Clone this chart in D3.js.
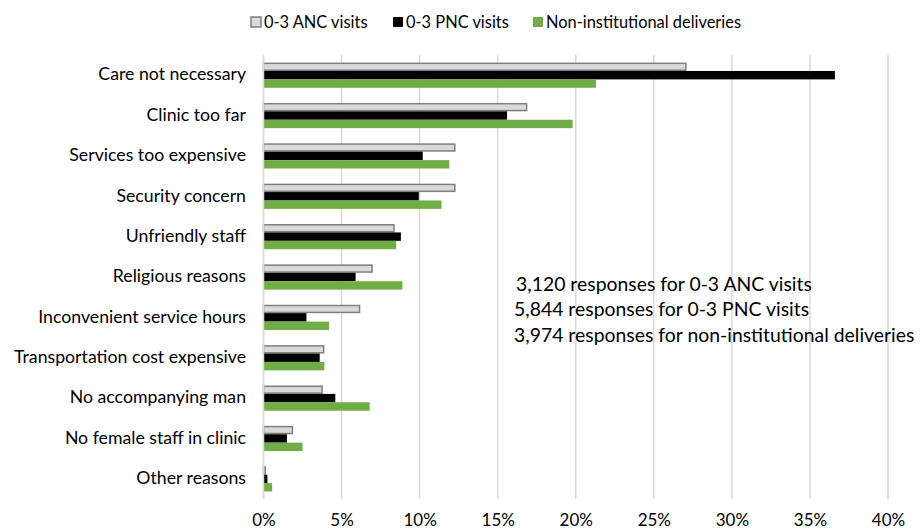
<!DOCTYPE html>
<html><head><meta charset="utf-8">
<script src="https://cdn.jsdelivr.net/npm/d3@7"></script>
<style>body{margin:0;background:#fff}svg{display:block}text{font-family:Lato,"Open Sans",sans-serif;fill:#000}</style>
</head><body>
<svg id="c" width="921" height="530"></svg>
<script>
const categories = ["Care not necessary","Clinic too far","Services too expensive","Security concern","Unfriendly staff","Religious reasons","Inconvenient service hours","Transportation cost expensive","No accompanying man","No female staff in clinic","Other reasons"];
const seriesNames = ["0-3 ANC visits","0-3 PNC visits","Non-institutional deliveries"];
const ancValues = [27.1,16.9,12.3,12.3,8.4,7.0,6.2,3.9,3.8,1.9,0.15];
const pncValues = [36.6,15.6,10.2,9.95,8.8,5.9,2.75,3.6,4.6,1.5,0.25];
const nidValues = [21.3,19.8,11.9,11.4,8.5,8.9,4.2,3.9,6.8,2.5,0.55];
const xTicks = [0,5,10,15,20,25,30,35,40];
const notes = ["3,120 responses for 0-3 ANC visits","5,844 responses for 0-3 PNC visits","3,974 responses for non-institutional deliveries"];

const fills = ["#d9d9d9","#000000","#70ad47"];
const strokes = ["#7f7f7f","none","none"];
const values = [ancValues,pncValues,nidValues];

const svg = d3.select("#c");
const x = d3.scaleLinear().domain([0,40]).range([263.5,888]);
const y = d3.scaleBand().domain(categories).range([55,499]);
const sub = d3.scaleBand().domain(seriesNames).range([-12.6,12.6]);

// gridlines
svg.append("g").selectAll("line").data(xTicks).join("line")
  .attr("x1",d=>x(d)).attr("x2",d=>x(d)).attr("y1",55).attr("y2",499)
  .attr("stroke","#d9d9d9").attr("stroke-width",1.5);

// x axis labels
const xa = svg.append("g").attr("transform","translate(0,499)")
  .call(d3.axisBottom(x).tickValues(xTicks).tickFormat(d=>d+"%").tickSize(0).tickPadding(15));
xa.select(".domain").remove();
xa.selectAll("text").attr("font-size",17).style("font-family","Lato,sans-serif").attr("fill","#000");

// y axis labels
const ya = svg.append("g").attr("transform","translate(246,0)")
  .call(d3.axisLeft(y).tickSize(0).tickPadding(0));
ya.select(".domain").remove();
ya.selectAll("text").attr("font-size",17.7).style("font-family","Lato,sans-serif").attr("fill","#000").attr("dy","0.3em");

// bars
seriesNames.forEach((s,i)=>{
  svg.append("g").selectAll("rect").data(categories).join("rect")
    .attr("x",x(0))
    .attr("y",(c)=>y(c)+y.bandwidth()/2+sub(s)+(i===0?0.75:0))
    .attr("width",(c,j)=>Math.max(0,x(values[i][j])-x(0)-(i===0?0.75:0)))
    .attr("height",sub.bandwidth()-(i===0?1.5:0))
    .attr("fill",fills[i])
    .attr("stroke",strokes[i]).attr("stroke-width",1.5);
});

// axis line at 0
svg.append("line").attr("x1",x(0)).attr("x2",x(0)).attr("y1",55).attr("y2",499).attr("stroke","#d9d9d9").attr("stroke-width",1.5);

// legend
const legX = [250,392,532];
seriesNames.forEach((s,i)=>{
  const g = svg.append("g").attr("transform",`translate(${legX[i]},22)`);
  g.append("rect").attr("x",1).attr("y",-5).attr("width",10).attr("height",10)
    .attr("fill",fills[i]).attr("stroke",i===0?"#7f7f7f":"none").attr("stroke-width",1.5);
  g.append("text").attr("x",14).attr("y",0).attr("dy","0.35em").attr("font-size",16.4).text(s);
});

// notes
svg.append("g").selectAll("text").data(notes).join("text")
  .attr("x",(d,i)=>i===0?516:514).attr("y",(d,i)=>284+i*25.5).attr("dy","0.35em")
  .attr("font-size",19.4).text(d=>d);
</script>
</body></html>
